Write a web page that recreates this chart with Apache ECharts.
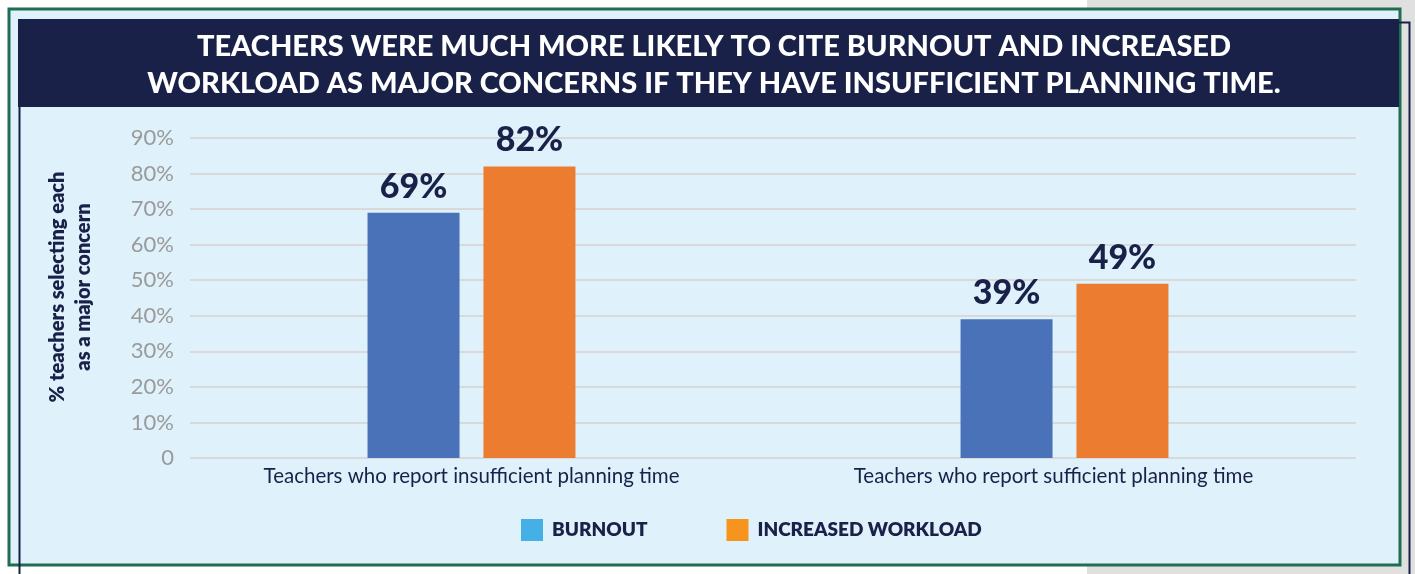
<!DOCTYPE html>
<html>
<head>
<meta charset="utf-8">
<script src="https://cdn.jsdelivr.net/npm/echarts@6/dist/echarts.min.js"></script>
<style>
  html, body { margin: 0; padding: 0; background: #ffffff; }
  #chart { width: 1415px; height: 574px; }
</style>
</head>
<body>
<div id="chart"></div>
<script>
// Data
const categories = [
  'Teachers who report insufficient planning time',
  'Teachers who report sufficient planning time'
];
const burnout = [69, 39];
const increasedWorkload = [82, 49];
const seriesNames = ['BURNOUT', 'INCREASED WORKLOAD'];
const yTicks = [0, 10, 20, 30, 40, 50, 60, 70, 80, 90];
const titleLines = [
  'TEACHERS WERE MUCH MORE LIKELY TO CITE BURNOUT AND INCREASED',
  'WORKLOAD AS MAJOR CONCERNS IF THEY HAVE INSUFFICIENT PLANNING TIME.'
];
const yAxisTitle = '% teachers selecting each\nas a major concern';

const NAVY = '#1a2149';
const BAR_BLUE = '#4a72b8';
const BAR_ORANGE = '#ec7c30';
const KEY_BLUE = '#45b0e5';
const KEY_ORANGE = '#f7941d';
const FONT = 'Lato, "Noto Sans", sans-serif';

const chart = echarts.init(document.getElementById('chart'), null, { renderer: 'canvas' });

const labelCfg = {
  show: true,
  position: 'top',
  distance: 9,
  formatter: p => p.value + '%',
  color: NAVY,
  fontFamily: FONT,
  fontWeight: 900,
  fontSize: 34
};

const yMin = yTicks[0];
const yMax = yTicks[yTicks.length - 1];

// category labels; the second one sits slightly left of its group
const categoryItems = categories.map((c, i) => (
  i === 1 ? { value: c, textStyle: { padding: [0, 22, 0, 0] } } : c
));

chart.setOption({
  backgroundColor: '#ffffff',
  animation: false,
  title: {
    text: titleLines.join('\n'),
    left: 709,
    textAlign: 'center',
    top: 23,
    textStyle: {
      color: '#ffffff',
      fontFamily: FONT,
      fontWeight: 900,
      fontSize: 29,
      lineHeight: 37
    },
    z: 10
  },
  graphic: [
    // right-hand grey page strip
    { type: 'rect', z: -10, shape: { x: 1087, y: 0, width: 328, height: 574 }, style: { fill: '#e0e0e0' } },
    // light panel with green frame
    { type: 'rect', z: -9, shape: { x: 9, y: 9, width: 1391, height: 556 },
      style: { fill: '#dff1fb', stroke: '#1f6e50', lineWidth: 3 } },
    // navy title banner
    { type: 'rect', z: -8, shape: { x: 18, y: 19, width: 1381, height: 88 }, style: { fill: NAVY } },
    // navy outline frame
    { type: 'polyline', z: 5, shape: { points: [[19.5, 600], [19.5, 22.5], [1409.5, 22.5], [1409.5, 600]] },
      style: { stroke: NAVY, lineWidth: 2, fill: null } }
  ],
  legend: {
    left: 516,
    top: 514,
    itemWidth: 22,
    itemHeight: 22,
    itemGap: 79,
    icon: 'rect',
    textStyle: { color: NAVY, fontFamily: FONT, fontWeight: 800, fontSize: 19, padding: [0, 0, 0, 4] },
    data: [
      { name: seriesNames[0], itemStyle: { color: KEY_BLUE } },
      { name: seriesNames[1], itemStyle: { color: KEY_ORANGE } }
    ]
  },
  // grid 0 carries the value scale and gridlines, grid 1 carries the bars
  grid: [
    { left: 190, right: 59, top: 138, bottom: 116, containLabel: false },
    { left: 175, right: 54, top: 138, bottom: 116, containLabel: false }
  ],
  xAxis: [
    { type: 'category', gridIndex: 0, data: categories, show: false },
    {
      type: 'category', gridIndex: 1, data: categoryItems,
      axisLine: { show: false },
      axisTick: { show: false },
      axisLabel: { color: NAVY, fontFamily: FONT, fontSize: 20.5, margin: 8 }
    }
  ],
  yAxis: [
    {
      type: 'value', gridIndex: 0,
      min: yMin, max: yMax, interval: 10,
      name: yAxisTitle,
      nameLocation: 'middle',
      nameRotate: 90,
      nameGap: 93,
      nameTextStyle: {
        color: NAVY, fontFamily: FONT, fontWeight: 800, fontSize: 20, lineHeight: 26,
        padding: [0, 0, 0, 22]
      },
      axisLine: { show: false },
      axisTick: { show: false },
      axisLabel: {
        color: '#9a9a9a', fontFamily: FONT, fontSize: 22, margin: 16,
        formatter: v => (v === 0 ? '0' : v + '%')
      },
      splitLine: { lineStyle: { color: '#d9d9d9', width: 2 } }
    },
    {
      type: 'value', gridIndex: 1,
      min: yMin, max: yMax, interval: 10,
      show: false,
      splitLine: { show: false }
    }
  ],
  series: [
    {
      name: seriesNames[0], type: 'bar', xAxisIndex: 1, yAxisIndex: 1, data: burnout,
      barWidth: 92, barGap: '26%',
      itemStyle: { color: BAR_BLUE },
      label: labelCfg
    },
    {
      name: seriesNames[1], type: 'bar', xAxisIndex: 1, yAxisIndex: 1, data: increasedWorkload,
      barWidth: 92,
      itemStyle: { color: BAR_ORANGE },
      label: labelCfg
    }
  ]
});
</script>
</body>
</html>
